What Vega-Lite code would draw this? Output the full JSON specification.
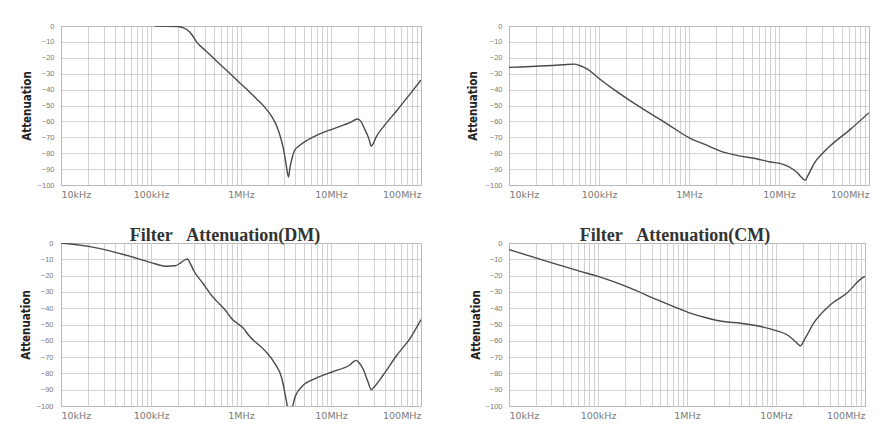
{
  "$schema": "https://vega.github.io/schema/vega-lite/v6.json",
  "background": "white",
  "padding": {"left": 19, "top": 21, "right": 0, "bottom": 0},
  "datasets": {
    "curves": [
      {"panel": "TL", "f": 110000, "a": 0},
      {"panel": "TL", "f": 200000, "a": -0.3},
      {"panel": "TL", "f": 230000, "a": -1.2},
      {"panel": "TL", "f": 260000, "a": -3},
      {"panel": "TL", "f": 285000, "a": -5.5},
      {"panel": "TL", "f": 320000, "a": -10},
      {"panel": "TL", "f": 400000, "a": -15.3},
      {"panel": "TL", "f": 490000, "a": -20},
      {"panel": "TL", "f": 600000, "a": -24.7},
      {"panel": "TL", "f": 780000, "a": -30.7},
      {"panel": "TL", "f": 1000000, "a": -36.5},
      {"panel": "TL", "f": 1220000, "a": -41},
      {"panel": "TL", "f": 1500000, "a": -46},
      {"panel": "TL", "f": 1830000, "a": -51},
      {"panel": "TL", "f": 2200000, "a": -57},
      {"panel": "TL", "f": 2500000, "a": -63},
      {"panel": "TL", "f": 2750000, "a": -70},
      {"panel": "TL", "f": 2950000, "a": -77},
      {"panel": "TL", "f": 3150000, "a": -86},
      {"panel": "TL", "f": 3300000, "a": -93},
      {"panel": "TL", "f": 3380000, "a": -95},
      {"panel": "TL", "f": 3500000, "a": -89},
      {"panel": "TL", "f": 3700000, "a": -83},
      {"panel": "TL", "f": 3920000, "a": -78.5},
      {"panel": "TL", "f": 4400000, "a": -75.5},
      {"panel": "TL", "f": 5050000, "a": -73},
      {"panel": "TL", "f": 7100000, "a": -68.5},
      {"panel": "TL", "f": 10800000, "a": -64.5},
      {"panel": "TL", "f": 16600000, "a": -60.5},
      {"panel": "TL", "f": 19600000, "a": -58.5},
      {"panel": "TL", "f": 21500000, "a": -60},
      {"panel": "TL", "f": 23300000, "a": -64},
      {"panel": "TL", "f": 26400000, "a": -71},
      {"panel": "TL", "f": 28000000, "a": -75.5},
      {"panel": "TL", "f": 29500000, "a": -74},
      {"panel": "TL", "f": 31300000, "a": -70.5},
      {"panel": "TL", "f": 38700000, "a": -63},
      {"panel": "TL", "f": 54300000, "a": -53},
      {"panel": "TL", "f": 76200000, "a": -42.5},
      {"panel": "TL", "f": 100000000, "a": -34},

      {"panel": "TR", "f": 10000, "a": -26},
      {"panel": "TR", "f": 26400, "a": -25},
      {"panel": "TR", "f": 40000, "a": -24.4},
      {"panel": "TR", "f": 52700, "a": -24},
      {"panel": "TR", "f": 62000, "a": -25},
      {"panel": "TR", "f": 73600, "a": -27},
      {"panel": "TR", "f": 102600, "a": -33.5},
      {"panel": "TR", "f": 146800, "a": -40},
      {"panel": "TR", "f": 244000, "a": -48.5},
      {"panel": "TR", "f": 410000, "a": -56.5},
      {"panel": "TR", "f": 570000, "a": -61.5},
      {"panel": "TR", "f": 1020000, "a": -70.5},
      {"panel": "TR", "f": 1500000, "a": -74.5},
      {"panel": "TR", "f": 2470000, "a": -79.5},
      {"panel": "TR", "f": 3500000, "a": -81.5},
      {"panel": "TR", "f": 5600000, "a": -83.5},
      {"panel": "TR", "f": 8000000, "a": -85.5},
      {"panel": "TR", "f": 11100000, "a": -87},
      {"panel": "TR", "f": 13300000, "a": -89},
      {"panel": "TR", "f": 15800000, "a": -92},
      {"panel": "TR", "f": 18000000, "a": -95.5},
      {"panel": "TR", "f": 19500000, "a": -97},
      {"panel": "TR", "f": 21000000, "a": -94},
      {"panel": "TR", "f": 24500000, "a": -86.5},
      {"panel": "TR", "f": 30000000, "a": -80.5},
      {"panel": "TR", "f": 36900000, "a": -75.5},
      {"panel": "TR", "f": 62000000, "a": -65},
      {"panel": "TR", "f": 100000000, "a": -54.5},

      {"panel": "BL", "f": 10000, "a": 0},
      {"panel": "BL", "f": 22400, "a": -2.5},
      {"panel": "BL", "f": 53000, "a": -7.5},
      {"panel": "BL", "f": 100000, "a": -12},
      {"panel": "BL", "f": 150000, "a": -14.3},
      {"panel": "BL", "f": 185000, "a": -14},
      {"panel": "BL", "f": 215000, "a": -12},
      {"panel": "BL", "f": 245000, "a": -10},
      {"panel": "BL", "f": 255000, "a": -9.8},
      {"panel": "BL", "f": 270000, "a": -12},
      {"panel": "BL", "f": 299000, "a": -17},
      {"panel": "BL", "f": 380000, "a": -25},
      {"panel": "BL", "f": 461000, "a": -31.5},
      {"panel": "BL", "f": 503000, "a": -34},
      {"panel": "BL", "f": 710000, "a": -43},
      {"panel": "BL", "f": 776000, "a": -46},
      {"panel": "BL", "f": 1090000, "a": -53},
      {"panel": "BL", "f": 1190000, "a": -56},
      {"panel": "BL", "f": 1840000, "a": -66},
      {"panel": "BL", "f": 2380000, "a": -74},
      {"panel": "BL", "f": 2840000, "a": -83},
      {"panel": "BL", "f": 3170000, "a": -96},
      {"panel": "BL", "f": 3300000, "a": -101},
      {"panel": "BL", "f": 3470000, "a": -106},
      {"panel": "BL", "f": 3710000, "a": -101},
      {"panel": "BL", "f": 4010000, "a": -94},
      {"panel": "BL", "f": 4770000, "a": -88},
      {"panel": "BL", "f": 6730000, "a": -83},
      {"panel": "BL", "f": 10400000, "a": -79},
      {"panel": "BL", "f": 16000000, "a": -75},
      {"panel": "BL", "f": 19000000, "a": -72},
      {"panel": "BL", "f": 20500000, "a": -73.5},
      {"panel": "BL", "f": 22600000, "a": -77},
      {"panel": "BL", "f": 25700000, "a": -85},
      {"panel": "BL", "f": 28000000, "a": -90},
      {"panel": "BL", "f": 30500000, "a": -88},
      {"panel": "BL", "f": 38000000, "a": -81},
      {"panel": "BL", "f": 53600000, "a": -69},
      {"panel": "BL", "f": 75700000, "a": -58.5},
      {"panel": "BL", "f": 100000000, "a": -47},

      {"panel": "BR", "f": 10000, "a": -4},
      {"panel": "BR", "f": 26700, "a": -11.3},
      {"panel": "BR", "f": 63300, "a": -17.4},
      {"panel": "BR", "f": 100000, "a": -20.5},
      {"panel": "BR", "f": 231000, "a": -27.7},
      {"panel": "BR", "f": 460000, "a": -34.8},
      {"panel": "BR", "f": 709000, "a": -39},
      {"panel": "BR", "f": 1090000, "a": -43},
      {"panel": "BR", "f": 1680000, "a": -46},
      {"panel": "BR", "f": 2580000, "a": -48.2},
      {"panel": "BR", "f": 3970000, "a": -49.2},
      {"panel": "BR", "f": 6120000, "a": -50.8},
      {"panel": "BR", "f": 9420000, "a": -53.3},
      {"panel": "BR", "f": 13300000, "a": -56.3},
      {"panel": "BR", "f": 16500000, "a": -60.4},
      {"panel": "BR", "f": 18800000, "a": -63},
      {"panel": "BR", "f": 21300000, "a": -58.4},
      {"panel": "BR", "f": 26500000, "a": -49.2},
      {"panel": "BR", "f": 40800000, "a": -37.9},
      {"panel": "BR", "f": 62800000, "a": -30.7},
      {"panel": "BR", "f": 92500000, "a": -21.5},
      {"panel": "BR", "f": 100000000, "a": -20.5}
    ]
  },
  "data": {"name": "curves"},
  "spacing": 27,
  "vconcat": [
    {
      "bounds": "flush",
      "spacing": 88,
      "hconcat": [
        {
          "width": 360, "height": 159,
          "transform": [{"filter": "datum.panel == 'TL'"}],
          "mark": {"type": "line", "interpolate": "monotone", "clip": true, "color": "#4a4a4a", "strokeWidth": 1.4},
          "encoding": {
            "x": {"field": "f", "type": "quantitative", "scale": {"type": "log", "domain": [10000, 100000000], "nice": false},
              "axis": {"title": null, "labelOverlap": false, "labelFlush": true,
                "values": [10000,20000,30000,40000,50000,60000,70000,80000,90000,100000,200000,300000,400000,500000,600000,700000,800000,900000,1000000,2000000,3000000,4000000,5000000,6000000,7000000,8000000,9000000,10000000,20000000,30000000,40000000,50000000,60000000,70000000,80000000,90000000,100000000],
                "labelExpr": "datum.value == 10000 ? '10kHz' : datum.value == 100000 ? '100kHz' : datum.value == 1000000 ? '1MHz' : datum.value == 10000000 ? '10MHz' : datum.value == 100000000 ? '100MHz' : ''"}},
            "y": {"field": "a", "type": "quantitative", "scale": {"domain": [-100, 0], "nice": false},
              "axis": {"title": "Attenuation", "values": [0,-10,-20,-30,-40,-50,-60,-70,-80,-90,-100], "labelPadding": 7, "titlePadding": 5}}
          }
        },
        {
          "width": 360, "height": 159,
          "transform": [{"filter": "datum.panel == 'TR'"}],
          "mark": {"type": "line", "interpolate": "monotone", "clip": true, "color": "#4a4a4a", "strokeWidth": 1.4},
          "encoding": {
            "x": {"field": "f", "type": "quantitative", "scale": {"type": "log", "domain": [10000, 100000000], "nice": false},
              "axis": {"title": null, "labelOverlap": false, "labelFlush": true,
                "values": [10000,20000,30000,40000,50000,60000,70000,80000,90000,100000,200000,300000,400000,500000,600000,700000,800000,900000,1000000,2000000,3000000,4000000,5000000,6000000,7000000,8000000,9000000,10000000,20000000,30000000,40000000,50000000,60000000,70000000,80000000,90000000,100000000],
                "labelExpr": "datum.value == 10000 ? '10kHz' : datum.value == 100000 ? '100kHz' : datum.value == 1000000 ? '1MHz' : datum.value == 10000000 ? '10MHz' : datum.value == 100000000 ? '100MHz' : ''"}},
            "y": {"field": "a", "type": "quantitative", "scale": {"domain": [-100, 0], "nice": false},
              "axis": {"title": "Attenuation", "values": [0,-10,-20,-30,-40,-50,-60,-70,-80,-90,-100], "labelPadding": 7, "titlePadding": 7}}
          }
        }
      ]
    },
    {
      "bounds": "flush",
      "spacing": 88,
      "hconcat": [
        {
          "width": 360, "height": 163,
          "title": {"text": "Filter\u00a0\u00a0\u00a0Attenuation(DM)", "dx": -16},
          "transform": [{"filter": "datum.panel == 'BL'"}],
          "mark": {"type": "line", "interpolate": "monotone", "clip": true, "color": "#4a4a4a", "strokeWidth": 1.4},
          "encoding": {
            "x": {"field": "f", "type": "quantitative", "scale": {"type": "log", "domain": [10000, 100000000], "nice": false},
              "axis": {"title": null, "labelOverlap": false, "labelFlush": true,
                "values": [10000,20000,30000,40000,50000,60000,70000,80000,90000,100000,200000,300000,400000,500000,600000,700000,800000,900000,1000000,2000000,3000000,4000000,5000000,6000000,7000000,8000000,9000000,10000000,20000000,30000000,40000000,50000000,60000000,70000000,80000000,90000000,100000000],
                "labelExpr": "datum.value == 10000 ? '10kHz' : datum.value == 100000 ? '100kHz' : datum.value == 1000000 ? '1MHz' : datum.value == 10000000 ? '10MHz' : datum.value == 100000000 ? '100MHz' : ''"}},
            "y": {"field": "a", "type": "quantitative", "scale": {"domain": [-100, 0], "nice": false},
              "axis": {"title": "Attenuation", "values": [0,-10,-20,-30,-40,-50,-60,-70,-80,-90,-100], "labelPadding": 8, "titlePadding": 5}}
          }
        },
        {
          "width": 356, "height": 163,
          "title": {"text": "Filter\u00a0\u00a0\u00a0Attenuation(CM)", "dx": -12},
          "transform": [{"filter": "datum.panel == 'BR'"}],
          "mark": {"type": "line", "interpolate": "monotone", "clip": true, "color": "#4a4a4a", "strokeWidth": 1.4},
          "encoding": {
            "x": {"field": "f", "type": "quantitative", "scale": {"type": "log", "domain": [10000, 100000000], "nice": false},
              "axis": {"title": null, "labelOverlap": false, "labelFlush": true,
                "values": [10000,20000,30000,40000,50000,60000,70000,80000,90000,100000,200000,300000,400000,500000,600000,700000,800000,900000,1000000,2000000,3000000,4000000,5000000,6000000,7000000,8000000,9000000,10000000,20000000,30000000,40000000,50000000,60000000,70000000,80000000,90000000,100000000],
                "labelExpr": "datum.value == 10000 ? '10kHz' : datum.value == 100000 ? '100kHz' : datum.value == 1000000 ? '1MHz' : datum.value == 10000000 ? '10MHz' : datum.value == 100000000 ? '100MHz' : ''"}},
            "y": {"field": "a", "type": "quantitative", "scale": {"domain": [-100, 0], "nice": false},
              "axis": {"title": "Attenuation", "values": [0,-10,-20,-30,-40,-50,-60,-70,-80,-90,-100], "labelPadding": 7, "titlePadding": 4}}
          }
        }
      ]
    }
  ],
  "config": {
    "view": {"stroke": "#8c8c8c", "strokeWidth": 1},
    "axis": {"ticks": false, "domain": false, "gridColor": "#c6c6c6", "gridWidth": 0.8, "labelColor": "#7a7a7a"},
    "axisX": {"labelFont": "DejaVu Sans", "labelFontSize": 9.5, "labelPadding": 4},
    "axisY": {"labelFont": "Liberation Sans", "labelFontSize": 7.5, "titleFont": "DejaVu Sans Condensed, DejaVu Sans, sans-serif", "titleFontSize": 11.5, "titleFontWeight": "bold", "titleColor": "#222222"},
    "title": {"font": "Liberation Serif", "fontSize": 18, "fontWeight": "bold", "color": "#333333", "offset": -6}
  }
}
